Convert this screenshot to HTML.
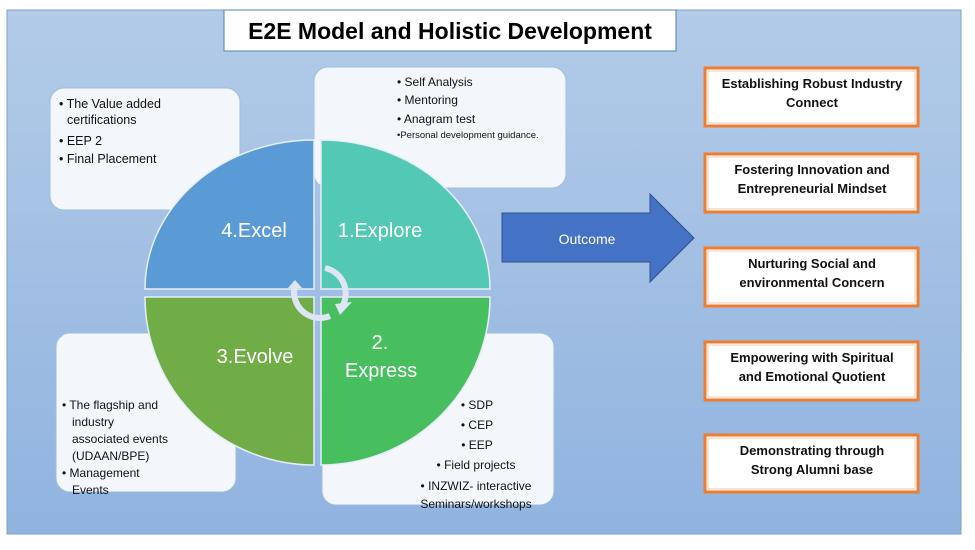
<!DOCTYPE html>
<html><head><meta charset="utf-8"><style>
html,body{margin:0;padding:0;background:#fff;}
svg text{font-family:"Liberation Sans",sans-serif;}
</style></head><body>
<svg width="975" height="545" viewBox="0 0 975 545" xmlns="http://www.w3.org/2000/svg">
<defs>
<linearGradient id="bg" x1="0" y1="0" x2="0" y2="1">
<stop offset="0" stop-color="#b3cbe8"/><stop offset="1" stop-color="#90b3df"/>
</linearGradient>
</defs>
<rect x="7" y="10" width="954" height="524" fill="url(#bg)" stroke="#7f9fcc" stroke-width="1"/>
<rect x="224" y="10" width="452" height="41" fill="#fff" stroke="#5a7fb0" stroke-width="1"/>
<text x="450" y="39" text-anchor="middle" font-size="23" font-weight="bold" fill="#000">E2E Model and Holistic Development</text>

<!-- text boxes -->
<rect x="50" y="88" width="190" height="122" rx="14" fill="#f3f7fc" stroke="#9fbde0"/>
<rect x="314" y="67" width="252" height="121" rx="14" fill="#f3f7fc" stroke="#9fbde0"/>
<rect x="56" y="333" width="180" height="159" rx="14" fill="#f3f7fc" stroke="#9fbde0"/>
<rect x="322" y="333" width="232" height="172" rx="14" fill="#f3f7fc" stroke="#9fbde0"/>

<g font-size="12.5" fill="#111">
<text x="59" y="108">• The Value added</text>
<text x="67" y="124">certifications</text>
<text x="59" y="145">• EEP 2</text>
<text x="59" y="163">• Final Placement</text>
<text x="397" y="86" font-size="12">• Self Analysis</text>
<text x="397" y="104" font-size="12">•  Mentoring</text>
<text x="397" y="123" font-size="12">•  Anagram test</text>
<text x="397" y="138" font-size="9.5">•Personal development guidance.</text>
<text x="62" y="409" font-size="12">• The flagship and</text>
<text x="72" y="426" font-size="12">industry</text>
<text x="72" y="443" font-size="12">associated events</text>
<text x="72" y="460" font-size="12">(UDAAN/BPE)</text>
<text x="62" y="477" font-size="12">• Management</text>
<text x="72" y="494" font-size="12">Events</text>
<g font-size="12" text-anchor="middle">
<text x="477" y="409">• SDP</text>
<text x="477" y="429">• CEP</text>
<text x="477" y="449">• EEP</text>
<text x="476" y="469">• Field projects</text>
<text x="476" y="490">• INZWIZ- interactive</text>
<text x="476" y="508">Seminars/workshops</text>
</g>
</g>

<!-- quadrants -->
<g stroke="#e6eef8" stroke-width="1.5">
<path d="M314 140 L314 289 L145 289 A169 149 0 0 1 314 140 Z" fill="#5b9bd5"/>
<path d="M321 140 L321 289 L490 289 A169 149 0 0 0 321 140 Z" fill="#53c8b4"/>
<path d="M314 297 L314 465 L145 297 Z" fill="none" stroke="none"/>
<path d="M314 297 L145 297 A169 168 0 0 0 314 465 Z" fill="#70ad47"/>
<path d="M321 297 L490 297 A169 168 0 0 1 321 465 Z" fill="#47bf5f"/>
</g>
<g fill="#fff" font-size="20" text-anchor="middle">
<text x="254" y="237">4.Excel</text>
<text x="380" y="237">1.Explore</text>
<text x="255" y="363">3.Evolve</text>
<text x="380" y="349">2.</text>
<text x="381" y="377">Express</text>
</g>
<!-- circular arrows -->
<g fill="none" stroke="#dde6f2" stroke-width="6">
<path d="M325 268 A26 26 0 0 1 343 305"/>
<path d="M330 316 A26 26 0 0 1 295 285"/>
</g>
<polygon points="335,304 352,302 340,315" fill="#dde6f2"/>
<polygon points="288,288 302,288 295,280" fill="#dde6f2"/>

<!-- outcome arrow -->
<polygon points="502,213 650,213 650,194 694,238 650,282 650,262 502,262" fill="#4472c4" stroke="#2f528f" stroke-width="1"/>
<text x="587" y="244" font-size="14" fill="#fff" text-anchor="middle">Outcome</text>

<!-- outcome boxes -->
<g fill="#fff" stroke="#ed7d31" stroke-width="3">
<rect x="705" y="68" width="213" height="58"/>
<rect x="705" y="154" width="213" height="58"/>
<rect x="705" y="248" width="213" height="58"/>
<rect x="705" y="342" width="213" height="58"/>
<rect x="705" y="435" width="213" height="57"/>
</g>
<g fill="none" stroke="#f8cbad" stroke-width="1">
<rect x="708" y="71" width="207" height="52"/>
<rect x="708" y="157" width="207" height="52"/>
<rect x="708" y="251" width="207" height="52"/>
<rect x="708" y="345" width="207" height="52"/>
<rect x="708" y="438" width="207" height="51"/>
</g>
<g font-size="13" font-weight="bold" fill="#111" text-anchor="middle">
<text x="812" y="88">Establishing Robust Industry</text>
<text x="812" y="107">Connect</text>
<text x="812" y="174">Fostering Innovation and</text>
<text x="812" y="193">Entrepreneurial Mindset</text>
<text x="812" y="268">Nurturing Social and</text>
<text x="812" y="287">environmental Concern</text>
<text x="812" y="362">Empowering with Spiritual</text>
<text x="812" y="381">and Emotional Quotient</text>
<text x="812" y="455">Demonstrating through</text>
<text x="812" y="474">Strong Alumni base</text>
</g>
</svg>
</body></html>
